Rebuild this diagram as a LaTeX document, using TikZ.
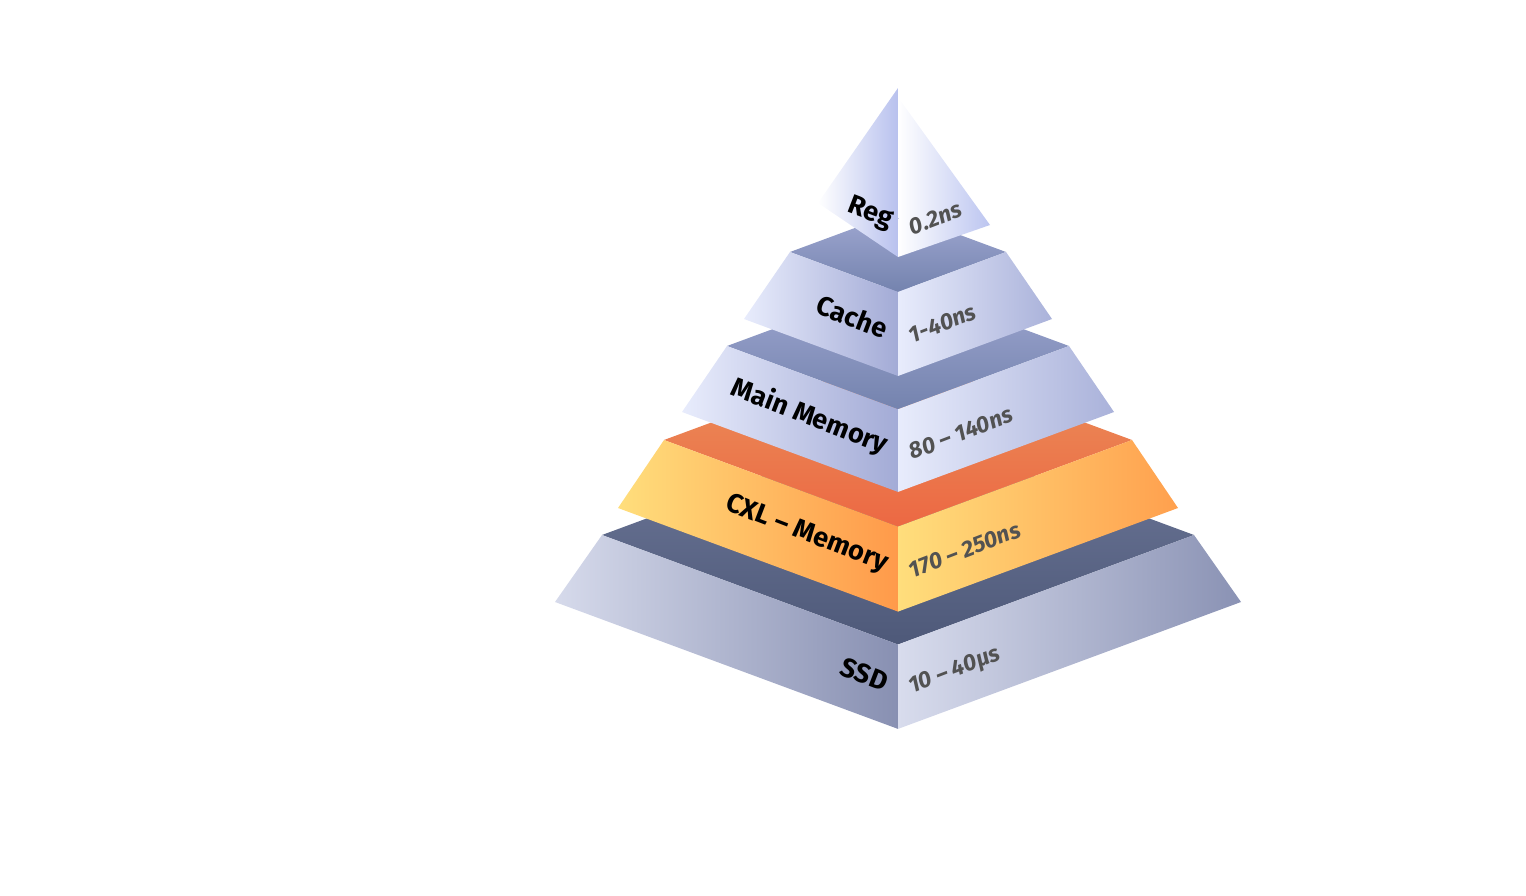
\documentclass[tikz,border=0pt]{standalone}
\usepackage{fontspec}
\setmainfont{Fira Sans}
\usetikzlibrary{calc}

\definecolor{regLa}{HTML}{FFFFFF} \definecolor{regLb}{HTML}{B8C1EE}
\definecolor{regRa}{HTML}{FFFFFF} \definecolor{regRb}{HTML}{BCC5F0}
\definecolor{cacheTa}{HTML}{A0A8D2} \definecolor{cacheTb}{HTML}{7483AE}
\definecolor{cacheLa}{HTML}{E8ECFC} \definecolor{cacheLb}{HTML}{A3ABD6}
\definecolor{cacheRa}{HTML}{E8ECFC} \definecolor{cacheRb}{HTML}{AAB2DA}
\colorlet{mainTa}{cacheTa} \colorlet{mainTb}{cacheTb}
\colorlet{mainLa}{cacheLa} \colorlet{mainLb}{cacheLb}
\colorlet{mainRa}{cacheRa} \colorlet{mainRb}{cacheRb}
\definecolor{cxlTa}{HTML}{EA935C} \definecolor{cxlTb}{HTML}{EC6843}
\definecolor{cxlLa}{HTML}{FFDE7C} \definecolor{cxlLb}{HTML}{FF9A4A}
\definecolor{cxlRa}{HTML}{FFDE7C} \definecolor{cxlRb}{HTML}{FFA04E}
\definecolor{ssdTa}{HTML}{707A9B} \definecolor{ssdTb}{HTML}{4E5979}
\definecolor{ssdLa}{HTML}{D6DAEB} \definecolor{ssdLb}{HTML}{8890B2}
\definecolor{ssdRa}{HTML}{D8DCED} \definecolor{ssdRb}{HTML}{8A92B4}

\tikzset{
	tiername/.style={anchor=east, rotate=-21, inner sep=0pt, font=\fontsize{27}{30}\selectfont\bfseries},
	tiertime/.style={anchor=west, rotate=21, inner sep=0pt, text=black!68, font=\fontsize{23}{26}\selectfont\itshape\bfseries}
}

\begin{document}
\begin{tikzpicture}[x=1pt, y=-1pt]
\useasboundingbox (0,0) rectangle (1526,896);

\pgfmathsetmacro{\cx}{898}

% tiers, from the base up
\foreach \key/\wt/\yt/\wb/\yb/\lbl/\lat in {ssd/296/535/343/602/SSD/10 – 40µs, cxl/234/440/280/508/CXL – Memory/170 – 250ns, main/171/346/216/412/Main Memory/80 – 140ns, cache/108/252/154/319/Cache/1-40ns} {
	\pgfmathsetmacro{\ft}{0.37*\wt}
	\pgfmathsetmacro{\fb}{0.37*\wb}
	\shade[top color=\key Ta, bottom color=\key Tb] (\cx-\wt,\yt) -- (\cx,\yt-\ft) -- (\cx+\wt,\yt) -- (\cx,\yt+\ft) -- cycle;
	\shade[left color=\key La, right color=\key Lb] (\cx-\wt,\yt) -- (\cx,\yt+\ft) -- (\cx,\yb+\fb) -- (\cx-\wb,\yb) -- cycle;
	\shade[left color=\key Ra, right color=\key Rb] (\cx,\yt+\ft) -- (\cx+\wt,\yt) -- (\cx+\wb,\yb) -- (\cx,\yb+\fb) -- cycle;

	\pgfmathsetmacro{\ym}{(\yt+\ft+\yb+\fb)/2}
	\node[tiername] (\key-name) at (\cx-11,\ym-4) {\lbl};
	\node[tiertime] (\key-time) at (\cx+12,\ym+2) {\lat};
}

% the top piece
\shade[left color=regLa, right color=regLb] (\cx,88) -- (818,203) -- (\cx,257) -- cycle;
\shade[left color=regRa, right color=regRb] (\cx+2,100) -- (990,225) -- (\cx,257) -- cycle;
\node[tiername] (reg-name) at (\cx-6,222) {Reg};
\node[tiertime] (reg-time) at (\cx+12,228) {0.2ns};

\end{tikzpicture}
\end{document}
